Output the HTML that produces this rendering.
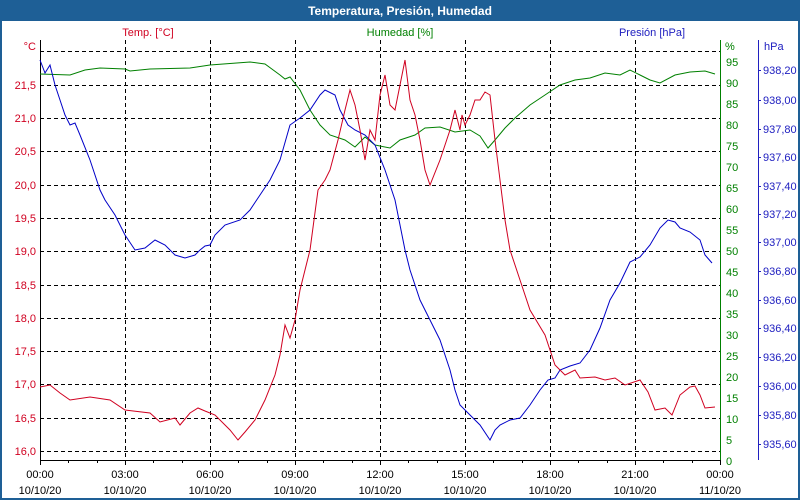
<!DOCTYPE html>
<html><head><meta charset="utf-8"><style>
body{margin:0;background:#fff}
svg{display:block;font-family:"Liberation Sans","DejaVu Sans",sans-serif}
</style></head><body>
<svg width="800" height="500" viewBox="0 0 800 500" xmlns="http://www.w3.org/2000/svg">
<rect x="0" y="0" width="800" height="500" fill="#1e5f96"/>
<rect x="2" y="21" width="796" height="477" fill="#fff"/>
<text x="400" y="15" fill="#fff" font-size="12" font-weight="bold" text-anchor="middle">Temperatura, Presión, Humedad</text>
<g font-size="11">
<text x="148" y="36" fill="#d00020" text-anchor="middle">Temp. [°C]</text>
<text x="400" y="36" fill="#008000" text-anchor="middle">Humedad [%]</text>
<text x="652" y="36" fill="#2020c0" text-anchor="middle">Presión [hPa]</text>
<text x="36" y="50" fill="#d00020" text-anchor="end">°C</text>
<text x="725" y="50" fill="#008000">%</text>
<text x="764" y="50" fill="#2020c0">hPa</text>
</g>
<g stroke="#000" stroke-dasharray="4,3" stroke-width="1">
<path d="M125.5 40V460M210.5 40V460M295.5 40V460M380.5 40V460M465.5 40V460M550.5 40V460M635.5 40V460"/>
<path d="M40 51.5H720M40 85.5H720M40 118.5H720M40 151.5H720M40 185.5H720M40 218.5H720M40 251.5H720M40 285.5H720M40 318.5H720M40 351.5H720M40 384.5H720M40 418.5H720M40 451.5H720"/>
</g>
<path d="M40.5 40V460.5H720" stroke="#000" fill="none"/>
<g stroke="#000"><path d="M40.5 460v5M68.5 460v3M97.5 460v3M125.5 460v5M153.5 460v3M182.5 460v3M210.5 460v5M238.5 460v3M267.5 460v3M295.5 460v5M323.5 460v3M352.5 460v3M380.5 460v5M408.5 460v3M437.5 460v3M465.5 460v5M493.5 460v3M522.5 460v3M550.5 460v5M578.5 460v3M607.5 460v3M635.5 460v5M663.5 460v3M692.5 460v3M720.5 460v5"/></g>
<g font-size="11" text-anchor="middle" fill="#000">
<text x="40" y="478">00:00</text><text x="40" y="494">10/10/20</text>
<text x="125" y="478">03:00</text><text x="125" y="494">10/10/20</text>
<text x="210" y="478">06:00</text><text x="210" y="494">10/10/20</text>
<text x="295" y="478">09:00</text><text x="295" y="494">10/10/20</text>
<text x="380" y="478">12:00</text><text x="380" y="494">10/10/20</text>
<text x="465" y="478">15:00</text><text x="465" y="494">10/10/20</text>
<text x="550" y="478">18:00</text><text x="550" y="494">10/10/20</text>
<text x="635" y="478">21:00</text><text x="635" y="494">10/10/20</text>
<text x="720" y="478">00:00</text><text x="720" y="494">11/10/20</text>
</g>
<g font-size="11" text-anchor="end" fill="#d00020">
<text x="36" y="89">21,5</text><text x="36" y="122">21,0</text><text x="36" y="155">20,5</text><text x="36" y="189">20,0</text><text x="36" y="222">19,5</text><text x="36" y="255">19,0</text><text x="36" y="289">18,5</text><text x="36" y="322">18,0</text><text x="36" y="355">17,5</text><text x="36" y="388">17,0</text><text x="36" y="422">16,5</text><text x="36" y="455">16,0</text>
</g>
<path d="M720.5 40V460" stroke="#008000"/>
<g stroke="#008000"><path id="ht" d=""/></g>
<g font-size="11" fill="#008000">
<text x="726" y="66">95</text><text x="726" y="87">90</text><text x="726" y="108">85</text><text x="726" y="129">80</text><text x="726" y="150">75</text><text x="726" y="171">70</text><text x="726" y="192">65</text><text x="726" y="213">60</text><text x="726" y="234">55</text><text x="726" y="255">50</text><text x="726" y="276">45</text><text x="726" y="297">40</text><text x="726" y="318">35</text><text x="726" y="339">30</text><text x="726" y="360">25</text><text x="726" y="381">20</text><text x="726" y="402">15</text><text x="726" y="423">10</text><text x="726" y="444">5</text><text x="726" y="465">0</text>
</g>
<path d="M758.5 40V460" stroke="#2020c0"/>
<g stroke="#2020c0"><path d="M758 70.5h3M758 100.5h3M758 129.5h3M758 157.5h3M758 186.5h3M758 214.5h3M758 242.5h3M758 271.5h3M758 300.5h3M758 328.5h3M758 357.5h3M758 386.5h3M758 415.5h3M758 444.5h3"/></g>
<g font-size="11" fill="#2020c0">
<text x="763" y="74">938,20</text><text x="763" y="104">938,00</text><text x="763" y="133">937,80</text><text x="763" y="161">937,60</text><text x="763" y="190">937,40</text><text x="763" y="218">937,20</text><text x="763" y="246">937,00</text><text x="763" y="275">936,80</text><text x="763" y="304">936,60</text><text x="763" y="332">936,40</text><text x="763" y="361">936,20</text><text x="763" y="390">936,00</text><text x="763" y="419">935,80</text><text x="763" y="448">935,60</text>
</g>
<polyline fill="none" stroke="#008000" stroke-width="1" points="40,74 70,75 85,70 100,68 125,69 130,71 150,69 190,68 210,65 250,62 265,64 280,75 285,79 290,77 300,90 310,110 320,125 330,135 345,140 355,147 365,137 375,145 390,148 400,140 415,135 425,128 440,127 455,132 470,130 480,136 488,148 495,140 505,128 515,118 530,105 545,95 560,85 575,80 590,78 605,73 620,75 630,70 640,75 650,80 660,83 675,75 690,72 705,71 715,74"/>
<polyline fill="none" stroke="#0000c8" stroke-width="1" points="40,60 45,73 50,65 55,85 60,100 65,115 70,125 75,123 80,135 90,160 100,190 105,200 115,215 125,235 135,250 145,248 155,240 165,245 175,255 185,258 195,255 200,250 205,246 210,245 215,235 225,225 240,220 250,210 260,195 270,180 280,160 290,125 300,118 310,110 320,95 325,90 335,95 340,110 348,125 355,130 365,135 375,145 385,170 395,200 405,250 410,270 420,300 430,320 440,340 450,370 455,390 460,405 470,415 480,425 490,440 495,430 500,425 510,420 520,418 530,405 540,390 548,380 555,378 560,370 570,366 580,363 590,350 600,328 610,300 620,283 630,262 640,257 650,245 660,228 668,220 675,222 680,228 690,232 700,240 705,255 712,263"/>
<polyline fill="none" stroke="#d00020" stroke-width="1" points="40,387 50,385 60,393 70,400 90,397 110,400 125,410 150,413 160,422 175,418 180,425 190,413 198,408 205,411 215,415 230,430 238,440 245,432 255,420 265,400 275,375 280,355 285,325 290,338 295,320 300,290 305,270 310,250 318,190 325,180 330,170 338,140 345,110 350,90 355,105 360,130 365,160 370,130 375,140 380,95 385,75 390,105 395,110 400,85 405,60 410,100 415,115 420,140 425,170 430,185 440,160 450,130 455,110 460,130 462,115 465,125 470,115 475,100 480,100 485,92 490,95 495,140 500,180 505,220 510,250 520,280 530,310 545,335 550,350 555,365 565,375 575,370 580,378 595,377 605,380 615,378 625,385 640,380 648,392 655,410 665,408 672,415 680,395 690,387 695,386 700,395 705,408 715,407"/>
</svg>
</body></html>
